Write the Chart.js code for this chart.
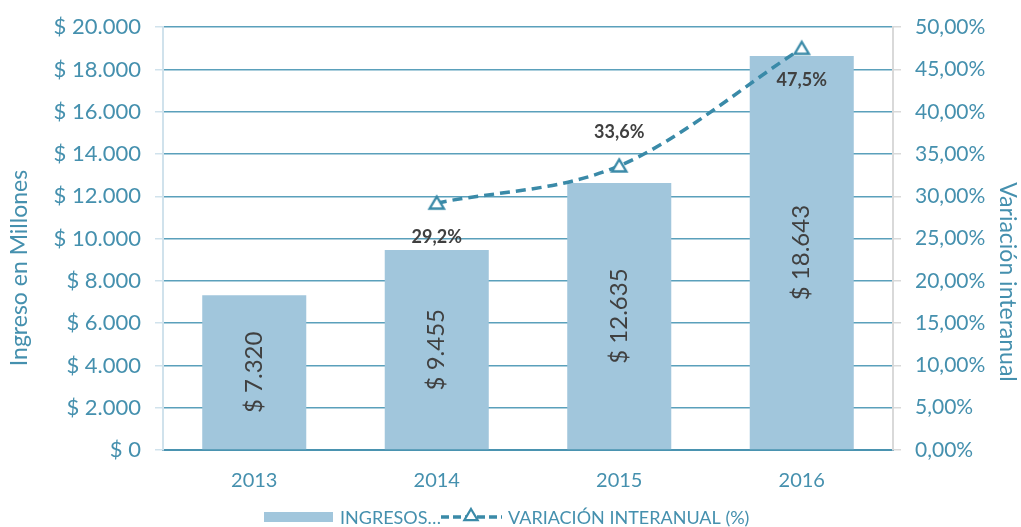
<!DOCTYPE html>
<html>
<head>
<meta charset="utf-8">
<script src="https://cdn.jsdelivr.net/npm/chart.js@4/dist/chart.umd.min.js"></script>
<style>
  html, body { margin: 0; padding: 0; background: #ffffff; }
  #wrap { width: 1021px; height: 527px; position: relative; }
</style>
</head>
<body>
<div id="wrap"><canvas id="c" width="1021" height="527"></canvas></div>
<script>
const categories = ['2013', '2014', '2015', '2016'];
const ingresos = [7320, 9455, 12635, 18643];
const variacion = [null, 29.2, 33.6, 47.5];
const ingresosLabels = ['$ 7.320', '$ 9.455', '$ 12.635', '$ 18.643'];
const variacionLabels = [null, '29,2%', '33,6%', '47,5%'];
const seriesNames = ['INGRESOS…', 'VARIACIÓN INTERANUAL (%)'];
const axisTitles = ['Ingreso en Millones', 'Variación interanual'];

const TEAL = '#4590ae';
const LINE = '#3a8aa8';
const BAR = '#a1c6dc';
const DARK = '#404040';
const FONT = 'Lato, "Open Sans", sans-serif';

function fmtMoney(v) {
  return '$ ' + String(Math.round(v)).replace(/\B(?=(\d{3})+(?!\d))/g, '.');
}
function fmtPct(v) {
  return v.toFixed(2).replace('.', ',') + '%';
}

function triangle(ctx, x, y, r) {
  ctx.beginPath();
  ctx.moveTo(x, y - r);
  ctx.lineTo(x + r * 0.95, y + r * 0.6);
  ctx.lineTo(x - r * 0.95, y + r * 0.6);
  ctx.closePath();
}

const labelsPlugin = {
  id: 'customLabels',
  afterDatasetsDraw(chart) {
    const ctx = chart.ctx;
    const barMeta = chart.getDatasetMeta(0);
    ctx.save();
    ctx.fillStyle = DARK;
    ctx.font = '24px ' + FONT;
    ctx.textAlign = 'center';
    ctx.textBaseline = 'middle';
    barMeta.data.forEach((bar, i) => {
      const cy = (bar.y + bar.base) / 2;
      ctx.save();
      ctx.translate(bar.x, cy);
      ctx.rotate(-Math.PI / 2);
      ctx.fillText(ingresosLabels[i], 0, 0);
      ctx.restore();
    });
    const lineMeta = chart.getDatasetMeta(1);
    ctx.font = 'bold 18px ' + FONT;
    const offsets = [0, 34, -34, 32];
    lineMeta.data.forEach((pt, i) => {
      if (variacionLabels[i] == null) return;
      ctx.fillText(variacionLabels[i], pt.x, pt.y + offsets[i]);
    });
    ctx.restore();
  },
  afterDraw(chart) {
    const ctx = chart.ctx;
    ctx.save();
    // axis titles
    ctx.fillStyle = TEAL;
    ctx.font = '23px ' + FONT;
    ctx.textAlign = 'center';
    ctx.textBaseline = 'middle';
    ctx.save();
    ctx.translate(20, 268);
    ctx.rotate(-Math.PI / 2);
    ctx.fillText(axisTitles[0], 0, 0);
    ctx.restore();
    ctx.save();
    ctx.translate(1007, 282);
    ctx.rotate(Math.PI / 2);
    ctx.fillText(axisTitles[1], 0, 0);
    ctx.restore();

    // legend
    const ly = 517;
    ctx.fillStyle = BAR;
    ctx.fillRect(264, ly - 5, 69, 10);
    ctx.fillStyle = TEAL;
    ctx.font = '18px ' + FONT;
    ctx.textAlign = 'left';
    ctx.fillText(seriesNames[0], 340, ly + 1);
    ctx.strokeStyle = LINE;
    ctx.lineWidth = 3.5;
    ctx.setLineDash([8, 4]);
    ctx.beginPath();
    ctx.moveTo(441, ly);
    ctx.lineTo(502, ly);
    ctx.stroke();
    ctx.setLineDash([]);
    ctx.lineWidth = 2.2;
    ctx.fillStyle = '#ffffff';
    triangle(ctx, 471, ly - 1, 7);
    ctx.fill();
    ctx.stroke();
    ctx.fillStyle = TEAL;
    ctx.fillText(seriesNames[1], 508, ly + 1);
    ctx.restore();
  }
};

const triCanvas = (() => {
  const c = document.createElement('canvas');
  c.width = 20; c.height = 20;
  const x = c.getContext('2d');
  x.strokeStyle = LINE; x.lineWidth = 2.4; x.fillStyle = '#fff';
  triangle(x, 10, 11, 7.5);
  x.fill(); x.stroke();
  return c;
})();

new Chart(document.getElementById('c'), {
  data: {
    labels: categories,
    datasets: [
      {
        type: 'bar',
        label: seriesNames[0],
        data: ingresos,
        backgroundColor: BAR,
        borderWidth: 0,
        yAxisID: 'y',
        categoryPercentage: 1,
        barPercentage: 0.57,
        order: 2
      },
      {
        type: 'line',
        label: seriesNames[1],
        data: variacion,
        borderColor: LINE,
        borderWidth: 3.5,
        borderDash: [10, 6],
        tension: 0.4,
        cubicInterpolationMode: 'monotone',
        pointStyle: triCanvas,
        pointRadius: 8,
        yAxisID: 'y1',
        order: 1
      }
    ]
  },
  options: {
    responsive: false,
    animation: false,
    devicePixelRatio: 1,
    layout: { padding: { top: 25, left: 0, right: 0, bottom: 0 } },
    plugins: {
      legend: { display: false },
      tooltip: { enabled: false }
    },
    scales: {
      x: {
        offset: true,
        grid: { display: false, drawTicks: false },
        border: { display: true, color: '#4a93b0', width: 2 },
        ticks: { color: TEAL, font: { family: FONT, size: 20 }, padding: 19 },
        afterFit(s) { s.height = 77; }
      },
      y: {
        position: 'left',
        min: 0, max: 20000,
        ticks: {
          stepSize: 2000,
          color: TEAL,
          font: { family: FONT, size: 22 },
          padding: 14,
          callback: v => fmtMoney(v)
        },
        grid: {
          color: '#5aa0bb',
          lineWidth: 1.5,
          borderDash: [2, 3],
          tickColor: '#d0e2ec',
          tickLength: 8,
          tickBorderDash: [],
          tickWidth: 1.5
        },
        border: { display: true, color: '#d0e2ec', width: 2 },
        afterFit(s) { s.width = 163; }
      },
      y1: {
        position: 'right',
        min: 0, max: 50,
        ticks: {
          stepSize: 5,
          color: TEAL,
          font: { family: FONT, size: 21 },
          padding: 14,
          callback: v => fmtPct(v)
        },
        grid: {
          drawOnChartArea: false,
          color: '#d9d9d9',
          tickLength: 8,
          lineWidth: 1.5
        },
        border: { display: true, color: '#d9d9d9', width: 2 },
        afterFit(s) { s.width = 128; }
      }
    }
  },
  plugins: [labelsPlugin]
});
</script>
</body>
</html>
